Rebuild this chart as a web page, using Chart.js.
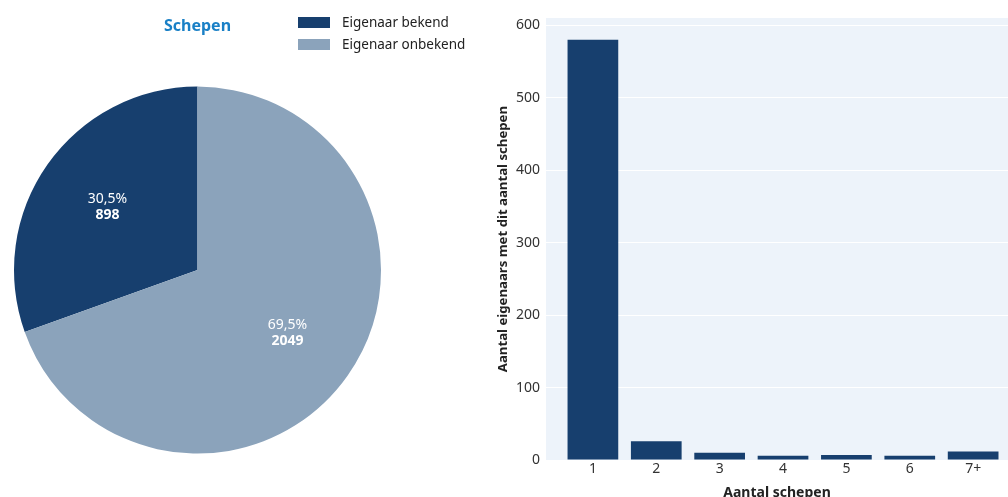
<!DOCTYPE html>
<html lang="nl">
<head>
<meta charset="utf-8">
<title>Schepen</title>
<script src="https://cdn.jsdelivr.net/npm/chart.js@4.4.1/dist/chart.umd.min.js"></script>
<style>
  html, body { margin: 0; padding: 0; background: #fff; }
  body { width: 1008px; height: 497px; position: relative; overflow: hidden; font-family: "Noto Sans", sans-serif; }
  #pieBox { position: absolute; left: 0; top: 0; width: 396px; height: 497px; }
  #barBox { position: absolute; left: 490px; top: 0; width: 518px; height: 497px; }
  #legend { position: absolute; left: 298px; top: 11px; list-style: none; margin: 0; padding: 0; }
  #legend li { display: flex; align-items: center; height: 22px; font-size: 13.5px; color: #222; white-space: nowrap; }
  #legend .box { display: inline-block; width: 32px; height: 11px; margin-right: 12px; }
</style>
</head>
<body>
<div id="pieBox"><canvas id="pie" width="396" height="497"></canvas></div>
<ul id="legend"></ul>
<div id="barBox"><canvas id="bar" width="518" height="497"></canvas></div>
<script>
// Ships: owner known vs unknown
const pieLabels = ['Eigenaar bekend', 'Eigenaar onbekend'];
const pieValues = [898, 2049];
const pieColors = ['#173f6e', '#8ba3bb'];

// Owners grouped by number of ships they own
const barCategories = ['1', '2', '3', '4', '5', '6', '7+'];
const barValues = [580, 26, 10, 6, 7, 6, 12];
const yTickValues = [0, 100, 200, 300, 400, 500, 600];

const FONT = '"Noto Sans", sans-serif';
const TEXT = '#222';

const pieTotal = pieValues.reduce((a, b) => a + b, 0);

// Percentage and count inside each slice
const sliceLabels = {
  id: 'sliceLabels',
  afterDatasetsDraw(chart) {
    const ctx = chart.ctx;
    const meta = chart.getDatasetMeta(0);
    const values = chart.data.datasets[0].data;
    ctx.save();
    ctx.fillStyle = '#fff';
    ctx.textAlign = 'center';
    ctx.textBaseline = 'middle';
    meta.data.forEach((arc, i) => {
      const p = arc.getProps(['x', 'y', 'startAngle', 'endAngle', 'outerRadius'], true);
      const mid = (p.startAngle + p.endAngle) / 2;
      const r = p.outerRadius * 0.6;
      const cx = p.x + Math.cos(mid) * r;
      const cy = p.y + Math.sin(mid) * r;
      const pct = (values[i] / pieTotal * 100).toFixed(1).replace('.', ',') + '%';
      ctx.font = '14px ' + FONT;
      ctx.fillText(pct, cx, cy - 8);
      ctx.font = 'bold 14px ' + FONT;
      ctx.fillText(String(values[i]), cx, cy + 8);
    });
    ctx.restore();
  }
};

const pieChart = new Chart(document.getElementById('pie'), {
  type: 'pie',
  data: {
    labels: pieLabels,
    datasets: [{ data: pieValues, backgroundColor: pieColors, borderWidth: 0 }]
  },
  options: {
    responsive: false,
    animation: false,
    rotation: -360 * pieValues[0] / pieTotal,
    layout: { padding: { left: 14, right: 15, top: 0, bottom: 43 } },
    plugins: {
      legend: { display: false },
      tooltip: { enabled: false },
      title: {
        display: true,
        text: 'Schepen',
        color: '#1a80c6',
        font: { family: FONT, size: 16, weight: 'bold' },
        padding: { top: 17, bottom: 50 }
      }
    }
  },
  plugins: [sliceLabels]
});

// Legend built from the pie's own labels and colours
const legendEl = document.getElementById('legend');
pieChart.options.plugins.legend.labels.generateLabels(pieChart).forEach(item => {
  const li = document.createElement('li');
  const box = document.createElement('span');
  box.className = 'box';
  box.style.background = item.fillStyle;
  li.appendChild(box);
  li.appendChild(document.createTextNode(item.text));
  legendEl.appendChild(li);
});

// Light blue plot background
const plotBackground = {
  id: 'plotBackground',
  beforeDraw(chart) {
    const { ctx, chartArea: a } = chart;
    ctx.save();
    ctx.fillStyle = '#edf3fa';
    ctx.fillRect(a.left, a.top, a.right - a.left, a.bottom - a.top);
    ctx.restore();
  }
};

new Chart(document.getElementById('bar'), {
  type: 'bar',
  data: {
    datasets: [{
      data: barValues.map((v, i) => ({ x: i, y: v })),
      backgroundColor: '#173f6e',
      borderWidth: 0,
      barPercentage: 0.8,
      categoryPercentage: 1.0
    }]
  },
  options: {
    responsive: false,
    animation: false,
    layout: { padding: { left: 0, right: 0, top: 18, bottom: -4 } },
    plugins: { legend: { display: false }, tooltip: { enabled: false } },
    scales: {
      x: {
        type: 'linear',
        offset: false,
        min: -0.74,
        max: 6.55,
        grid: { display: false, drawTicks: false, offset: false },
        border: { display: false },
        afterBuildTicks(scale) { scale.ticks = barCategories.map((_, i) => ({ value: i })); },
        ticks: {
          callback: v => barCategories[v],
          font: { family: FONT, size: 14 },
          color: '#333',
          padding: 1,
          maxRotation: 0
        },
        title: {
          display: true,
          text: 'Aantal schepen',
          color: TEXT,
          font: { family: FONT, size: 14, weight: 'bold' },
          padding: { top: 5.3, bottom: 0 }
        }
      },
      y: {
        min: 0,
        max: 610,
        afterBuildTicks(scale) { scale.ticks = yTickValues.map(v => ({ value: v })); },
        afterFit(scale) { scale.width = 56; },
        grid: { color: '#ffffff', lineWidth: 1, drawTicks: false },
        border: { display: false },
        ticks: { font: { family: FONT, size: 14 }, color: '#333', padding: 6 },
        title: {
          display: true,
          text: 'Aantal eigenaars met dit aantal schepen',
          color: TEXT,
          font: { family: FONT, size: 13.2, weight: 'bold' },
          padding: { top: 5, bottom: 0 }
        }
      }
    }
  },
  plugins: [plotBackground]
});
</script>
</body>
</html>
